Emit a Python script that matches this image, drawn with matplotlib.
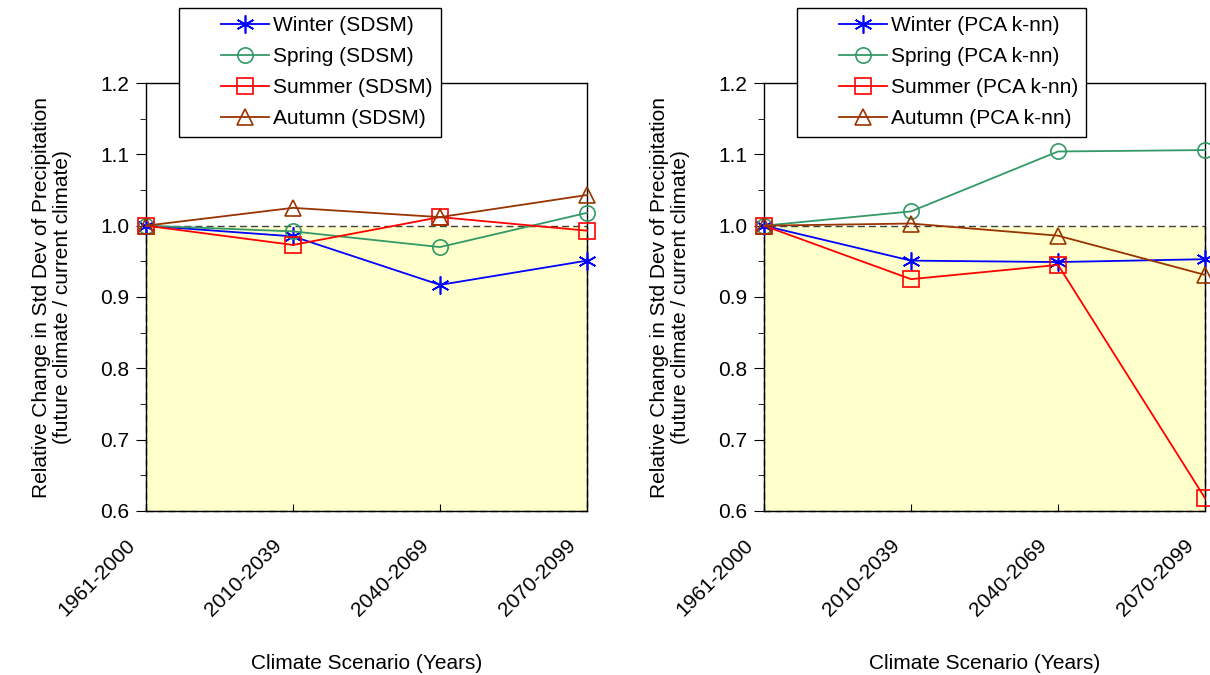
import matplotlib.pyplot as plt
from matplotlib.patches import Rectangle
from matplotlib.lines import Line2D
from matplotlib.legend_handler import HandlerLine2D
from matplotlib.transforms import ScaledTranslation

plt.rcParams['font.family'] = ['Liberation Sans', 'DejaVu Sans']

periods = ["1961-2000", "2010-2039", "2040-2069", "2070-2099"]
seasons = ["Winter", "Spring", "Summer", "Autumn"]

sdsm_winter = [1.000, 0.985, 0.917, 0.951]
sdsm_spring = [1.000, 0.992, 0.970, 1.018]
sdsm_summer = [1.000, 0.973, 1.012, 0.993]
sdsm_autumn = [1.000, 1.025, 1.012, 1.043]

pca_winter = [1.000, 0.951, 0.949, 0.953]
pca_spring = [1.000, 1.020, 1.104, 1.106]
pca_summer = [1.000, 0.925, 0.945, 0.618]
pca_autumn = [1.000, 1.003, 0.986, 0.931]

colors = ["#0000FF", "#339966", "#FF0000", "#993300"]
markers = [(6, 2, 0), "o", "s", "^"]
sizes = [13, 11, 11, 11]


def draw(fig, ax, series, method):
    ax.add_patch(Rectangle((0, 0.6), 3, 0.4, facecolor="#FFFFCC",
                           edgecolor="#404040", linestyle=(0, (5, 3)),
                           linewidth=1.0, zorder=1, clip_on=False))
    x = range(len(periods))
    for s, vals, c, m, ms in zip(seasons, series, colors, markers, sizes):
        ax.plot(x, vals, color=c, marker=m, markersize=ms, linewidth=1.3,
                markerfacecolor="none", markeredgecolor=c, markeredgewidth=1.2,
                label=f"{s} ({method})", clip_on=False, zorder=3)
    ax.set_xlim(0, 3)
    ax.set_ylim(0.6, 1.2)
    ax.set_yticks([0.6, 0.7, 0.8, 0.9, 1.0, 1.1, 1.2])
    ax.set_yticks([0.65, 0.75, 0.85, 0.95, 1.05, 1.15], minor=True)
    ax.set_yticklabels([f"{v:.1f}" for v in [0.6, 0.7, 0.8, 0.9, 1.0, 1.1, 1.2]])
    ax.set_xticks(list(x))
    ax.set_xticklabels(periods, rotation=45, ha="right")
    ax.tick_params(axis="y", which="major", direction="out", length=7, labelsize=15, pad=5)
    ax.tick_params(axis="y", which="minor", direction="out", length=4)
    ax.tick_params(axis="x", direction="in", length=5, labelsize=15, pad=18)
    shift = ScaledTranslation(-7 / 100, 0, fig.dpi_scale_trans)
    for lab in ax.get_xticklabels():
        lab.set_transform(lab.get_transform() + shift)
    for sp in ax.spines.values():
        sp.set_linewidth(1.0)
    ax.set_xlabel("Climate Scenario (Years)", fontsize=15, labelpad=24)
    ax.set_ylabel("Relative Change in Std Dev of Precipitation\n(future climate / current climate)",
                  fontsize=15, labelpad=20, linespacing=1.15)
    leg = ax.legend(loc="upper left", bbox_to_anchor=(0.075, 1.176), fontsize=15,
                    handler_map={Line2D: HandlerLine2D(xpad=1.6)},
                    handlelength=3.9, handletextpad=0.2, labelspacing=0.58,
                    borderpad=0.4, borderaxespad=0,
                    frameon=True, fancybox=False, edgecolor="black", framealpha=1)
    leg.get_frame().set_linewidth(1.0)
    leg.set_zorder(5)


fig = plt.figure(figsize=(12.1, 6.75), dpi=100)
ax1 = fig.add_axes([0.1207, 0.243, 0.3644, 0.634])
ax2 = fig.add_axes([0.6314, 0.243, 0.3645, 0.634])

draw(fig, ax1, [sdsm_winter, sdsm_spring, sdsm_summer, sdsm_autumn], "SDSM")
draw(fig, ax2, [pca_winter, pca_spring, pca_summer, pca_autumn], "PCA k-nn")

fig.savefig("out.png", dpi=100)
